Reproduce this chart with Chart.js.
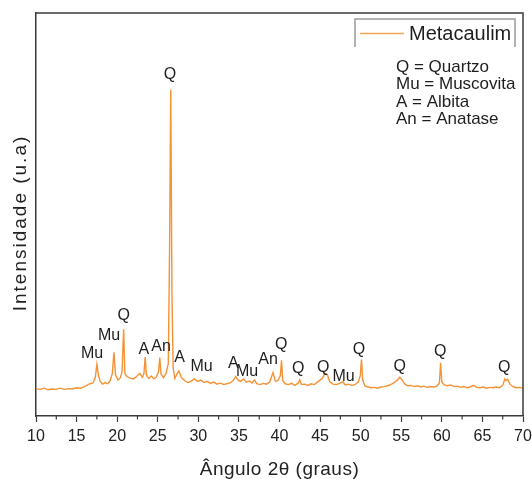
<!DOCTYPE html>
<html>
<head>
<meta charset="utf-8">
<script src="https://cdn.jsdelivr.net/npm/chart.js@4/dist/chart.umd.min.js"></script>
<style>
  html, body { margin: 0; padding: 0; background: #fff; }
  #wrap { width: 532px; height: 479px; }
</style>
</head>
<body>
<div id="wrap"><canvas id="c" width="532" height="479"></canvas></div>
<script>
// ---- data ----
const seriesName = 'Metacaulim';
const angles = [10.0,10.5,11.0,11.5,12.0,12.5,13.0,13.5,14.0,14.5,15.0,15.5,16.0,16.5,17.0,17.3,17.5,17.7,17.9,18.2,18.5,18.8,19.1,19.4,19.6,19.8,20.1,20.4,20.6,20.8,20.95,21.2,21.6,22.0,22.4,22.8,23.1,23.3,23.45,23.6,23.9,24.2,24.5,24.8,25.1,25.25,25.4,25.7,26.0,26.3,26.45,26.6,26.75,26.9,27.1,27.4,27.6,27.9,28.3,28.7,29.1,29.5,29.9,30.3,30.7,31.1,31.5,31.9,32.3,32.7,33.1,33.5,33.9,34.3,34.6,34.9,35.2,35.6,35.9,36.3,36.6,36.9,37.2,37.6,38.0,38.4,38.8,39.2,39.5,39.8,40.1,40.25,40.4,40.7,41.1,41.5,41.9,42.3,42.5,42.7,43.1,43.5,43.9,44.3,44.7,45.0,45.3,45.6,45.9,46.2,46.6,47.0,47.4,47.8,48.1,48.5,48.9,49.3,49.7,49.95,50.1,50.25,50.5,50.9,51.3,51.7,52.1,52.5,52.9,53.3,53.7,54.1,54.5,54.8,55.1,55.4,55.8,56.2,56.6,57.0,57.4,57.8,58.2,58.6,59.0,59.4,59.7,59.85,60.0,60.3,60.7,61.1,61.5,61.9,62.3,62.7,63.1,63.5,63.9,64.3,64.7,65.1,65.5,65.9,66.3,66.7,67.1,67.5,67.75,67.9,68.1,68.4,68.8,69.2,69.6,70.0];
const intensity = [6.8,6.6,6.9,6.5,6.7,6.6,6.9,6.6,6.8,6.7,7.0,6.9,7.3,7.9,8.2,9.5,12.8,10.0,8.6,7.9,8.3,8.0,8.6,10.5,15.8,10.2,8.9,9.5,11.0,21.5,10.5,9.8,9.4,9.2,9.8,10.6,9.6,10.5,14.6,10.2,9.3,9.9,9.2,9.6,11.0,14.5,10.4,9.5,10.5,13.0,40.0,81.0,30.0,12.0,9.3,10.5,11.2,9.6,8.8,8.3,8.6,9.2,8.6,8.9,8.3,8.6,8.1,8.4,7.9,8.2,7.8,8.0,8.2,8.8,9.8,8.9,8.6,9.2,8.4,8.7,8.2,8.9,8.0,7.8,8.1,7.9,8.5,10.8,8.6,8.8,10.0,13.8,8.8,8.0,7.8,8.1,7.6,8.2,9.0,7.8,7.9,7.6,8.0,7.8,8.4,8.9,9.4,10.6,10.2,8.5,7.9,7.8,8.1,8.5,7.7,7.9,7.6,7.8,8.4,10.0,14.0,9.0,7.5,7.2,7.0,7.1,6.9,7.2,7.3,7.5,7.8,8.2,8.9,9.6,9.0,8.0,7.5,7.6,7.3,7.5,7.2,7.4,7.1,7.3,7.2,7.4,8.2,13.2,8.4,7.7,7.5,7.7,7.3,7.4,7.1,7.3,7.0,7.2,7.6,7.1,7.0,7.2,6.9,7.1,7.0,7.2,7.0,7.6,9.2,8.8,9.1,7.9,7.2,7.0,7.1,6.9];

// phase labels (text, angle, height)
const peakText  = ['Mu','Mu','Q','A','An','Q','A','Mu','A','Mu','An','Q','Q','Q','Mu','Q','Q','Q','Q'];
const peakAngle = [16.9,19.0,20.8,23.3,25.4,26.5,27.7,30.4,34.3,36.0,38.6,40.2,42.3,45.4,47.9,49.8,54.8,59.8,67.7];
const peakLevel = [15.4,19.9,25.0,16.4,17.1,84.6,14.6,12.2,12.9,10.9,13.9,17.6,11.7,11.9,9.7,16.4,12.2,15.9,11.9];

const legendNotes = ['Q = Quartzo','Mu = Muscovita','A = Albita','An = Anatase'];
const xTitle = 'Ângulo 2θ (graus)';
const yTitle = 'Intensidade (u.a)';

const FONT = '"Liberation Sans", Arial, sans-serif';
const LINE = '#f59233';

const points = angles.map((a, i) => ({x: a, y: intensity[i]}));

const decor = {
  id: 'decor',
  afterDraw(chart) {
    const {ctx, chartArea: ca, scales: {x, y}} = chart;
    ctx.save();
    // frame top/right
    ctx.strokeStyle = '#3a3a3a';
    ctx.lineWidth = 1.5;
    ctx.beginPath();
    ctx.moveTo(ca.left, ca.top); ctx.lineTo(ca.right, ca.top); ctx.lineTo(ca.right, ca.bottom);
    ctx.stroke();
    // minor ticks
    ctx.lineWidth = 1.2;
    for (let v = 12.5; v < 70; v += 5) {
      const px = x.getPixelForValue(v);
      ctx.beginPath(); ctx.moveTo(px, ca.bottom); ctx.lineTo(px, ca.bottom + 3.5); ctx.stroke();
    }
    // peak labels
    ctx.fillStyle = '#1e1e1e';
    ctx.font = '16px ' + FONT;
    ctx.textAlign = 'center';
    ctx.textBaseline = 'middle';
    peakText.forEach((t, i) => {
      ctx.fillText(t, x.getPixelForValue(peakAngle[i]), y.getPixelForValue(peakLevel[i]));
    });
    // axis titles
    ctx.fillStyle = '#222';
    ctx.font = '19px ' + FONT;
    ctx.letterSpacing = '0.5px';
    ctx.fillText(xTitle, (ca.left + ca.right) / 2, 470);
    ctx.save();
    ctx.translate(21, 223);
    ctx.rotate(-Math.PI / 2);
    ctx.letterSpacing = '2px';
    ctx.fillText(yTitle, 0, 0);
    ctx.restore();
    ctx.letterSpacing = '0px';
    // legend box
    ctx.strokeStyle = '#9a9a9a';
    ctx.lineWidth = 1.5;
    ctx.beginPath();
    ctx.moveTo(355, 47); ctx.lineTo(355, 19); ctx.lineTo(515, 19); ctx.lineTo(515, 47);
    ctx.stroke();
    ctx.strokeStyle = '#f6a45a';
    ctx.lineWidth = 1.3;
    ctx.beginPath(); ctx.moveTo(360, 33.5); ctx.lineTo(404, 33.5); ctx.stroke();
    ctx.fillStyle = '#1e1e1e';
    ctx.textAlign = 'left';
    ctx.font = '20px ' + FONT;
    ctx.fillText(chart.data.datasets[0].label, 409, 34);
    ctx.font = '17px ' + FONT;
    legendNotes.forEach((t, i) => ctx.fillText(t, 396, 67 + i * 17.5));
    ctx.restore();
  }
};

new Chart(document.getElementById('c'), {
  type: 'line',
  data: { datasets: [{ label: seriesName, data: points, borderColor: LINE, borderWidth: 1.4, pointRadius: 0, tension: 0, fill: false }] },
  options: {
    responsive: false,
    animation: false,
    events: [],
    layout: { padding: { top: 13, right: 9, left: 0, bottom: 0 } },
    plugins: { legend: { display: false }, tooltip: { enabled: false } },
    scales: {
      x: {
        type: 'linear', min: 10, max: 70,
        afterFit(s) { s.height = 63; s.paddingLeft = 0; s.paddingRight = 0; },
        afterBuildTicks(s) { const t = []; for (let v = 10; v <= 70; v += 5) t.push({value: v}); s.ticks = t; },
        ticks: { color: '#222', font: { family: FONT, size: 16 }, padding: 5, maxRotation: 0, autoSkip: false },
        grid: { drawOnChartArea: false, drawTicks: true, tickLength: 6, tickColor: '#3a3a3a', tickWidth: 1.2 },
        border: { display: true, color: '#3a3a3a', width: 1.5 },
        title: { display: false }
      },
      y: {
        min: 0, max: 100,
        afterFit(s) { s.width = 36; s.paddingTop = 0; s.paddingBottom = 0; },
        ticks: { display: false },
        grid: { display: false, drawTicks: false },
        border: { display: true, color: '#3a3a3a', width: 1.5 },
        title: { display: false }
      }
    }
  },
  plugins: [decor]
});
</script>
</body>
</html>
